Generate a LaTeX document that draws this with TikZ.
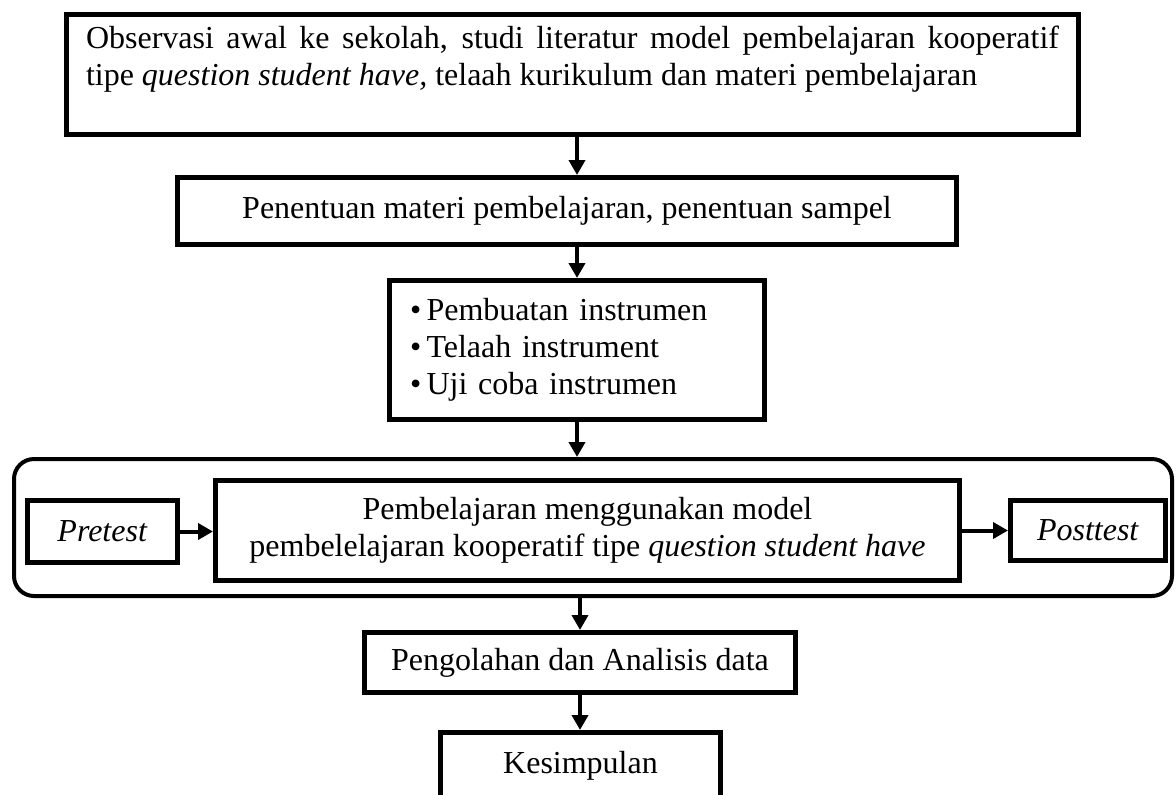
\documentclass[tikz,border=0pt]{standalone}
\usepackage{fontspec}
\setmainfont{Liberation Serif}
\usetikzlibrary{arrows.meta}

\begin{document}
\begin{tikzpicture}[
        x=0.5pt, y=-0.5pt,
        font=\fontsize{16}{18.5}\selectfont,
        block/.style={
            rectangle,
            draw=black,
            line width=2.5pt,
            inner sep=0pt,
            align=center
        },
        panel/.style={
            rectangle,
            draw=black,
            line width=2pt,
            rounded corners=10pt,
            minimum width=579pt,
            minimum height=68.5pt
        },
        arrow/.style={
            -{Triangle[length=7.5pt,width=8pt]},
            line width=2pt
        }
    ]
        \useasboundingbox (0,0) rectangle (1176,794);

        % Nodes
        \node[block, minimum height=60pt, inner xsep=9.75pt, text width=486.5pt, align=justify] (awal) at (572.5, 74.5) {Observasi awal ke sekolah, studi literatur model pembelajaran kooperatif\linebreak tipe \textit{question student have,} telaah kurikulum dan materi pembelajaran\\ \mbox{}};
        \node[block, minimum width=389.5pt, minimum height=33.5pt] (penentuan) at (567, 211) {Penentuan materi pembelajaran, penentuan sampel};
        \node[block, text width=167pt, inner xsep=10.25pt, minimum height=69.5pt, align=left] (instrumen) at (577, 350) {\textbullet\,Pembuatan instrumen\\ \textbullet\,Telaah instrument\\ \textbullet\,Uji coba instrumen};
        \node[panel] (kegiatan) at (593, 527.5) {};
        \node[block, minimum width=75pt, minimum height=31pt] (pretest) at (102.5, 531.5) {\textit{Pretest}};
        \node[block, minimum width=372pt, minimum height=50pt] (pembelajaran) at (587.5, 530.5) {Pembelajaran menggunakan model\\ pembelelajaran kooperatif tipe \textit{question student have}};
        \node[block, minimum width=77.5pt, minimum height=30pt] (posttest) at (1088, 530.5) {\textit{Posttest}};
        \node[block, minimum width=215.5pt, minimum height=30pt] (pengolahan) at (580, 662.5) {Pengolahan dan Analisis data};
        \node[block, minimum width=140pt, minimum height=33.5pt] (kesimpulan) at (580.5, 766) {Kesimpulan};

        % Paths
        \draw[arrow] (instrumen |- awal.south) -- (instrumen |- penentuan.north);
        \draw[arrow] (instrumen |- penentuan.south) -- (instrumen.north);
        \draw[arrow] (instrumen.south) -- (instrumen |- kegiatan.north);
        \draw[arrow] (pretest.east) -- (pretest.east -| pembelajaran.west);
        \draw[arrow] (pembelajaran.east) -- (pembelajaran.east -| posttest.west);
        \draw[arrow] (pengolahan |- kegiatan.south) -- (pengolahan.north);
        \draw[arrow] (pengolahan.south) -- (pengolahan.south |- kesimpulan.north);
    \end{tikzpicture}
\end{document}
